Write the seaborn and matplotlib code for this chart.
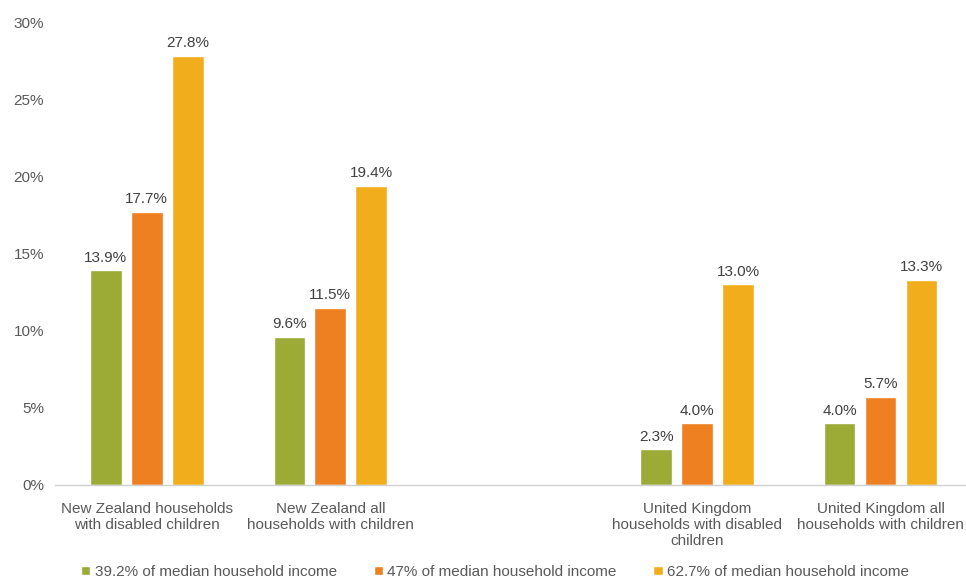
import matplotlib
matplotlib.use("Agg")
import matplotlib.pyplot as plt
import seaborn as sns
import pandas as pd

# Household groups (a blank slot separates the two countries)
groups = [
    "New Zealand households\nwith disabled children",
    "New Zealand all\nhouseholds with children",
    "United Kingdom\nhouseholds with disabled\nchildren",
    "United Kingdom all\nhouseholds with children",
]
spacer = " "
thresholds = [
    "39.2% of median household income",
    "47% of median household income",
    "62.7% of median household income",
]
rate_392 = [13.9, 9.6, 2.3, 4.0]
rate_47 = [17.7, 11.5, 4.0, 5.7]
rate_627 = [27.8, 19.4, 13.0, 13.3]
y_ticks = [0, 5, 10, 15, 20, 25, 30]

colors = ["#9bab36", "#ee8022", "#f2ad1c"]

df = pd.DataFrame({
    "group": groups * 3,
    "threshold": [thresholds[0]] * 4 + [thresholds[1]] * 4 + [thresholds[2]] * 4,
    "rate": rate_392 + rate_47 + rate_627,
})

sns.set_theme(style="white")
plt.rcParams["font.family"] = ["Liberation Sans", "DejaVu Sans"]

fig = plt.figure(figsize=(9.66, 5.79), dpi=100)
ax = fig.add_axes([0.057, 0.1624, 0.943, 0.7995])

order = groups[:2] + [spacer] + groups[2:]
sns.barplot(data=df, x="group", y="rate", hue="threshold", order=order,
            hue_order=thresholds, palette=colors, width=0.67, gap=0.23,
            saturation=1, ax=ax, errorbar=None)

for cont in ax.containers:
    labels = [f"{v:.1f}%" for v in cont.datavalues]
    ax.bar_label(cont, labels=labels, padding=4, fontsize=11, color="#404040")

ax.set_ylim(0, 30)
ax.set_xlim(-0.5, 4.465)
ax.set_yticks(y_ticks)
ax.set_yticklabels([f"{t}%" for t in y_ticks])
ax.set_xticks(range(len(order)))
ax.set_xticklabels(order)
ax.tick_params(axis="y", labelsize=11, labelcolor="#595959", length=0, pad=8)
ax.tick_params(axis="x", labelsize=11, labelcolor="#595959", length=0, pad=12)
ax.set_xlabel("")
ax.set_ylabel("")
for side in ["top", "right", "left"]:
    ax.spines[side].set_visible(False)
ax.spines["bottom"].set_color("#d0d0d0")
ax.spines["bottom"].set_linewidth(1)

handles, labels = ax.get_legend_handles_labels()
ax.legend(handles, labels, loc="center", bbox_to_anchor=(0.483, -0.188),
          ncol=3, frameon=False, fontsize=11, labelcolor="#595959",
          handlelength=0.6, handleheight=0.6, handletextpad=0.3,
          columnspacing=2.4)

fig.savefig("out.png", dpi=100)
